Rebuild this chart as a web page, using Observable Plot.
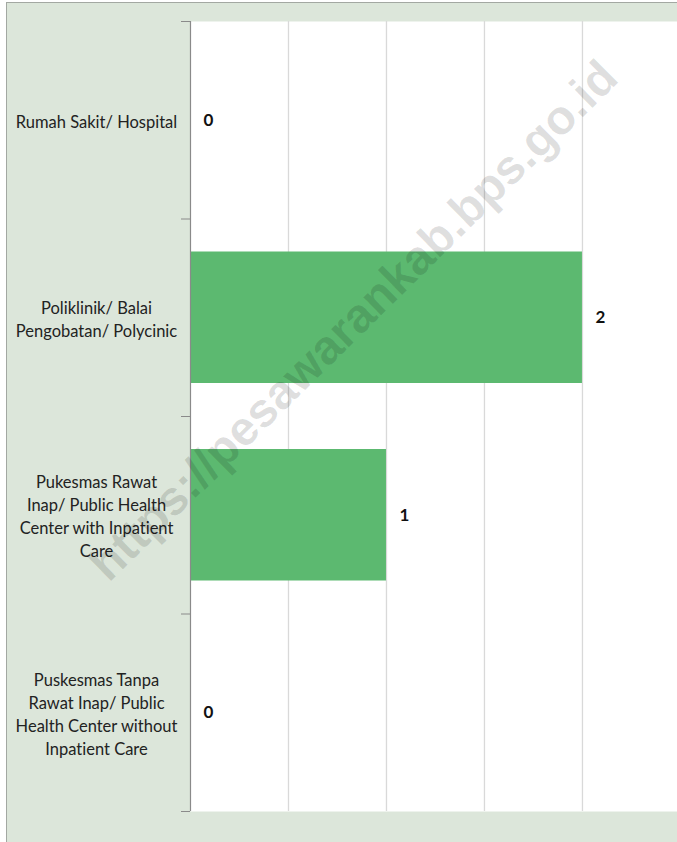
<!DOCTYPE html>
<html>
<head>
<meta charset="utf-8">
<script src="https://cdn.jsdelivr.net/npm/d3@7"></script>
<script src="https://cdn.jsdelivr.net/npm/@observablehq/plot@0.6"></script>
<style>
  html, body { margin: 0; padding: 0; background: #ffffff; }
  #page { position: relative; width: 677px; height: 842px; overflow: hidden; }
  #panel { position: absolute; left: 6px; top: 2px; right: -2px; bottom: -2px;
           background: #dce6da; border-left: 1.5px solid #a3a8a2; border-top: 1.5px solid #a3a8a2; }
  #chart { position: absolute; left: 0; top: 0; }
  #chart svg text { font-variant-ligatures: none; font-feature-settings: "liga" 0; }
  #watermark { position: absolute; left: 353px; top: 320px; transform: translate(-50%, -50%) rotate(-44.5deg);
               font-family: "Liberation Sans", Arial, sans-serif; font-weight: bold; font-size: 48px;
               color: rgba(0,0,0,0.13); white-space: nowrap; pointer-events: none; }
</style>
</head>
<body>
<div id="page">
  <div id="panel"></div>
  <div id="chart"></div>
  <div id="watermark">https://pesawarankab.bps.go.id</div>
</div>
<script>
const categories = [
  "Rumah Sakit/ Hospital",
  "Poliklinik/ Balai Pengobatan/ Polycinic",
  "Pukesmas Rawat Inap/ Public Health Center with Inpatient Care",
  "Puskesmas Tanpa Rawat Inap/ Public Health Center without Inpatient Care"
];
const categoryLabels = [
  "Rumah Sakit/ Hospital",
  "Poliklinik/ Balai\nPengobatan/ Polycinic",
  "Pukesmas Rawat\nInap/ Public Health\nCenter with Inpatient\nCare",
  "Puskesmas Tanpa\nRawat Inap/ Public\nHealth Center without\nInpatient Care"
];
const values = [0, 2, 1, 0];
const xGridTicks = [0.5, 1, 1.5, 2, 2.5];
const bandBoundaries = [0, 1, 2, 3, 4];

const data = categories.map((c, i) => ({category: c, label: categoryLabels[i], value: values[i], i}));

const chart = Plot.plot({
  width: 677,
  height: 842,
  marginLeft: 190,
  marginRight: 0,
  marginTop: 21,
  marginBottom: 31,
  style: {background: "transparent", fontFamily: "Lato, 'Open Sans', sans-serif", fontSize: "16.5px", color: "#222"},
  x: {domain: [0, 2.485], axis: null},
  y: {domain: [0, 4], reverse: true, axis: null},
  marks: [
    Plot.frame({fill: "white", stroke: "none"}),
    Plot.gridX(xGridTicks, {stroke: "#d9d9d9", strokeOpacity: 1, strokeWidth: 1.3}),
    Plot.rectX(data, {x1: 0, x2: "value", y1: "i", y2: d => d.i + 1, insetTop: 33, insetBottom: 33, fill: "#5cb970"}),
    Plot.ruleX([0], {stroke: "#8a8a8a", strokeWidth: 1.2}),
    Plot.axisY(bandBoundaries, {tickSize: 9, tickFormat: () => "", stroke: "#8a8a8a", anchor: "left", label: null}),
    Plot.text(data, {y: d => d.i + 0.5, frameAnchor: "left", dx: -94, text: "label", textAnchor: "middle", lineHeight: 1.4, fill: "#222"}),
    Plot.text(data, {x: "value", y: d => d.i + 0.5, text: d => String(d.value), textAnchor: "start", dx: 13, fontWeight: "bold", fontSize: 17, fill: "#111"})
  ]
});
document.getElementById("chart").appendChild(chart);
</script>
</body>
</html>
